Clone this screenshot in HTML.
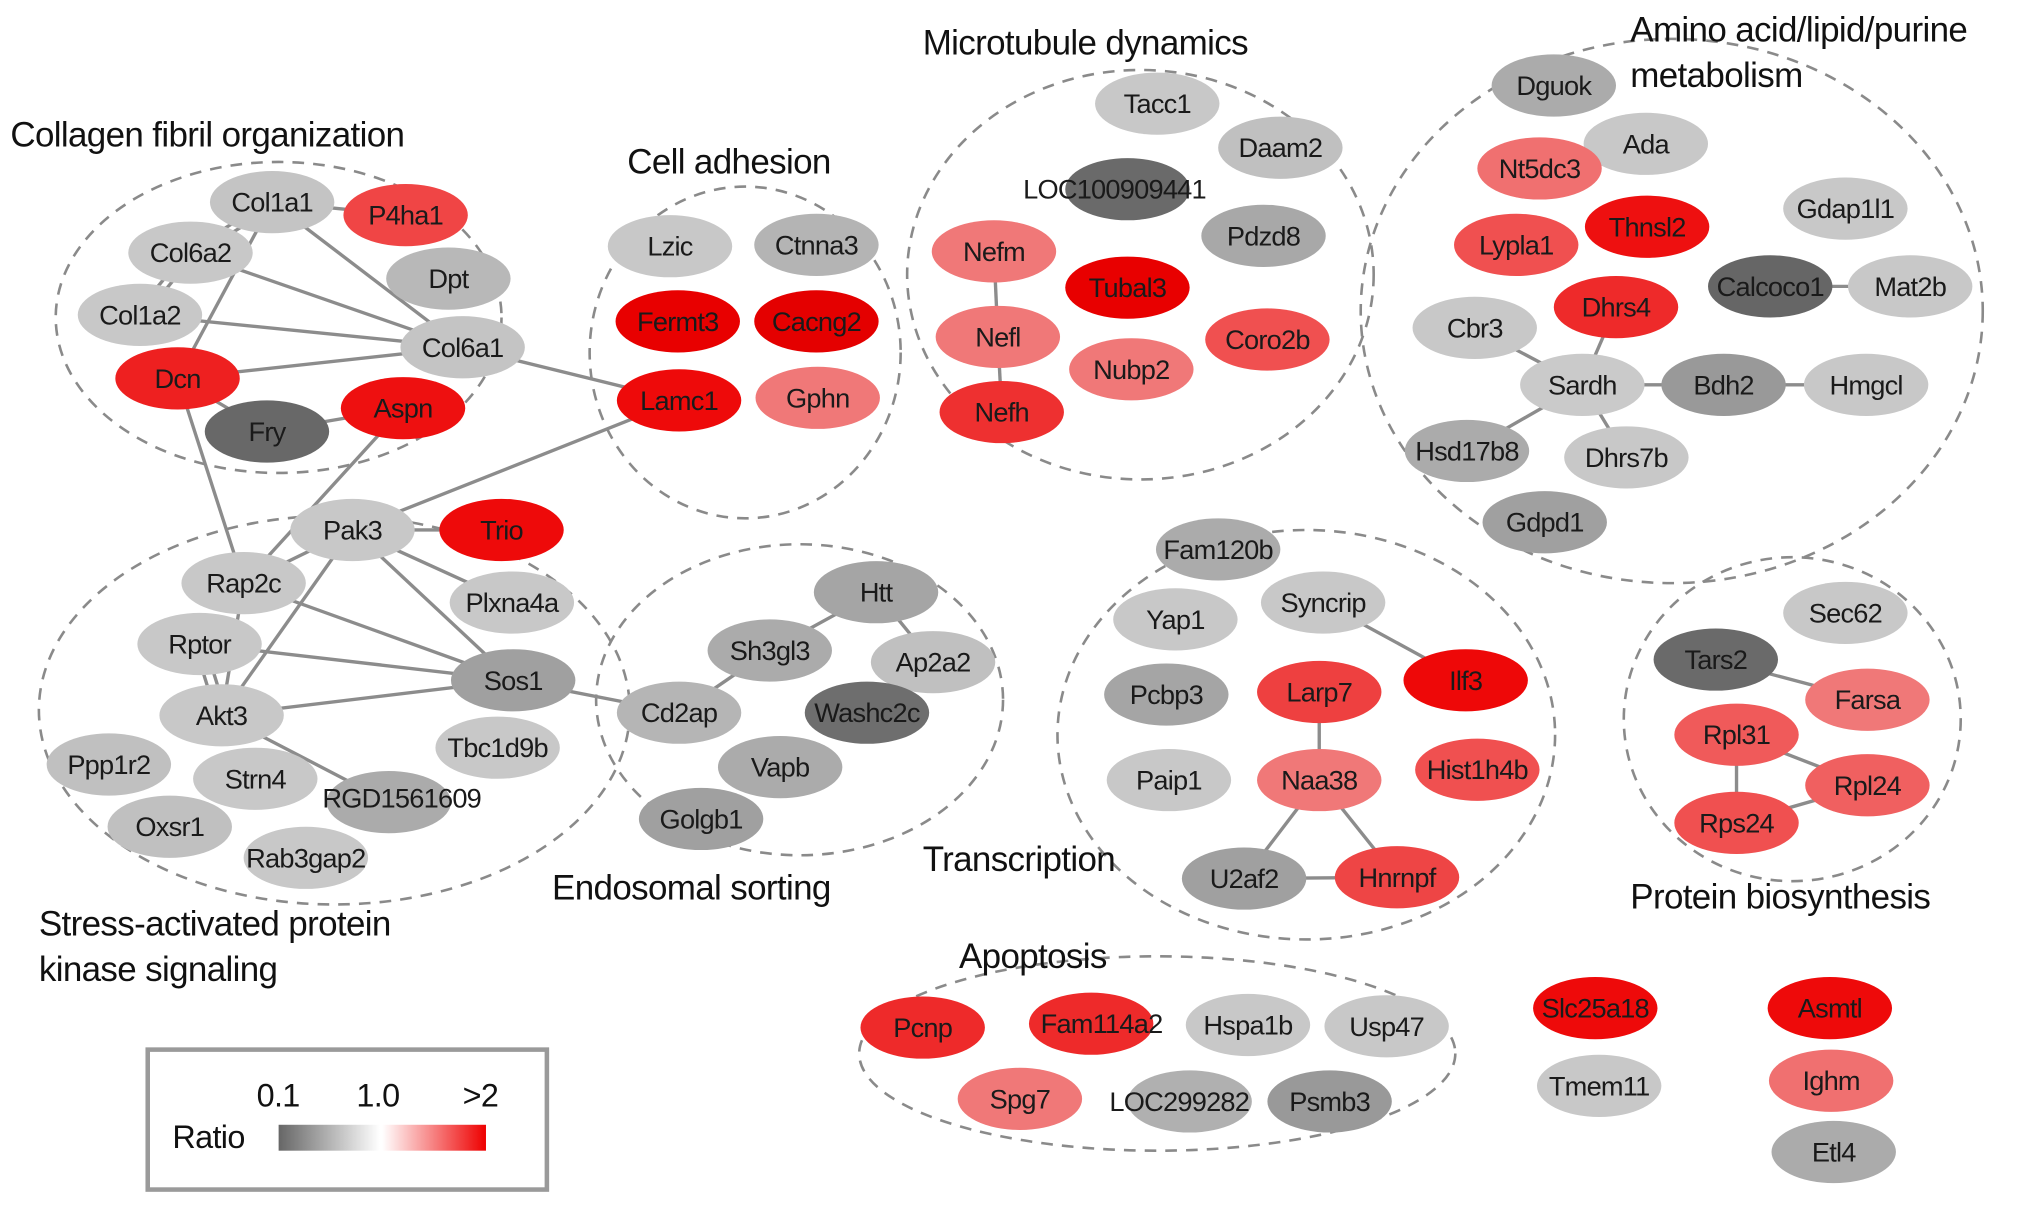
<!DOCTYPE html>
<html><head><meta charset="utf-8"><style>
html,body{margin:0;padding:0;background:#fff;}
svg{display:block}
text{font-family:"Liberation Sans Narrow","Liberation Sans",sans-serif;}
.n{font-size:21px;fill:#1a1a1a;text-anchor:middle;dominant-baseline:central;letter-spacing:-0.6px}
.t{font-size:27px;fill:#111;letter-spacing:-0.5px}
.c{fill:none;stroke:#8a8a8a;stroke-width:2;stroke-dasharray:9 7}
.e{stroke:#8c8c8c;stroke-width:2.6}
</style></head><body>
<svg width="2032" height="1209" viewBox="0 0 1568 933" preserveAspectRatio="none">
<defs>
<linearGradient id="gg" x1="0" x2="1"><stop offset="0" stop-color="#666"/><stop offset="1" stop-color="#fff"/></linearGradient>
<linearGradient id="gr" x1="0" x2="1"><stop offset="0" stop-color="#fff"/><stop offset="1" stop-color="#ee0000"/></linearGradient>
</defs>
<!-- cluster outlines -->
<ellipse class="c" cx="215" cy="245" rx="172" ry="120"/>
<ellipse class="c" cx="575" cy="272" rx="120" ry="128"/>
<ellipse class="c" cx="880" cy="212" rx="180" ry="158"/>
<ellipse class="c" cx="1290" cy="240" rx="240" ry="210"/>
<ellipse class="c" cx="258" cy="548" rx="228" ry="150"/>
<ellipse class="c" cx="617" cy="540" rx="157" ry="120"/>
<ellipse class="c" cx="1008" cy="567" rx="192" ry="158"/>
<ellipse class="c" cx="1383" cy="555" rx="130" ry="125"/>
<ellipse class="c" cx="893" cy="813" rx="230" ry="75"/>
<!-- titles -->
<text class="t" x="8" y="113">Collagen fibril organization</text>
<text class="t" x="484" y="134">Cell adhesion</text>
<text class="t" x="712" y="42">Microtubule dynamics</text>
<text class="t" x="1258" y="32">Amino acid/lipid/purine</text>
<text class="t" x="1258" y="67">metabolism</text>
<text class="t" x="30" y="722">Stress-activated protein</text>
<text class="t" x="30" y="757">kinase signaling</text>
<text class="t" x="426" y="694">Endosomal sorting</text>
<text class="t" x="712" y="672">Transcription</text>
<text class="t" x="1258" y="701">Protein biosynthesis</text>
<text class="t" x="740" y="747">Apoptosis</text>
<!-- edges -->
<g class="e">
<line x1="210" y1="156" x2="313" y2="166"/>
<line x1="206" y1="156" x2="143" y2="195"/><line x1="214" y1="158" x2="151" y2="197"/>
<line x1="210" y1="156" x2="357" y2="268"/>
<line x1="210" y1="156" x2="137" y2="292"/>
<line x1="143" y1="195" x2="104" y2="243"/><line x1="151" y1="195" x2="112" y2="243"/>
<line x1="147" y1="195" x2="357" y2="268"/>
<line x1="108" y1="243" x2="357" y2="268"/>
<line x1="137" y1="292" x2="357" y2="268"/>
<line x1="137" y1="292" x2="206" y2="333"/>
<line x1="206" y1="333" x2="311" y2="315"/>
<line x1="357" y1="268" x2="524" y2="309"/>
<line x1="524" y1="309" x2="272" y2="409"/>
<line x1="311" y1="315" x2="188" y2="450"/>
<line x1="137" y1="292" x2="188" y2="450"/>
<line x1="272" y1="409" x2="387" y2="409"/>
<line x1="272" y1="409" x2="188" y2="450"/>
<line x1="272" y1="409" x2="395" y2="465"/>
<line x1="272" y1="409" x2="396" y2="525"/>
<line x1="272" y1="409" x2="171" y2="552"/>
<line x1="188" y1="450" x2="396" y2="525"/>
<line x1="188" y1="450" x2="171" y2="552"/>
<line x1="150" y1="497" x2="167" y2="552"/><line x1="158" y1="497" x2="175" y2="552"/>
<line x1="154" y1="497" x2="396" y2="525"/>
<line x1="171" y1="552" x2="396" y2="525"/>
<line x1="171" y1="552" x2="300" y2="619"/>
<line x1="396" y1="525" x2="524" y2="550"/>
<line x1="676" y1="457" x2="594" y2="502"/>
<line x1="676" y1="457" x2="720" y2="511"/>
<line x1="594" y1="502" x2="524" y2="550"/>
<line x1="767" y1="194" x2="770" y2="260"/>
<line x1="770" y1="260" x2="773" y2="318"/>
<line x1="1366" y1="221" x2="1474" y2="221"/>
<line x1="1221" y1="297" x2="1138" y2="253"/>
<line x1="1221" y1="297" x2="1247" y2="237"/>
<line x1="1221" y1="297" x2="1330" y2="297"/>
<line x1="1330" y1="297" x2="1440" y2="297"/>
<line x1="1221" y1="297" x2="1132" y2="348"/>
<line x1="1221" y1="297" x2="1255" y2="353"/>
<line x1="1021" y1="465" x2="1131" y2="525"/>
<line x1="1018" y1="534" x2="1018" y2="602"/>
<line x1="1018" y1="602" x2="960" y2="678"/>
<line x1="1018" y1="602" x2="1078" y2="677"/>
<line x1="960" y1="678" x2="1078" y2="677"/>
<line x1="1324" y1="509" x2="1441" y2="540"/>
<line x1="1340" y1="567" x2="1340" y2="635"/>
<line x1="1340" y1="567" x2="1441" y2="606"/>
<line x1="1340" y1="635" x2="1441" y2="606"/>
</g>
<!-- nodes -->
<g>
<ellipse cx="210" cy="156" rx="48" ry="24" fill="#c4c4c4"/><text class="n" x="210" y="156">Col1a1</text>
<ellipse cx="313" cy="166" rx="48" ry="24" fill="#f04545"/><text class="n" x="313" y="166">P4ha1</text>
<ellipse cx="147" cy="195" rx="48" ry="24" fill="#c8c8c8"/><text class="n" x="147" y="195">Col6a2</text>
<ellipse cx="346" cy="215" rx="48" ry="24" fill="#b8b8b8"/><text class="n" x="346" y="215">Dpt</text>
<ellipse cx="108" cy="243" rx="48" ry="24" fill="#c8c8c8"/><text class="n" x="108" y="243">Col1a2</text>
<ellipse cx="357" cy="268" rx="48" ry="24" fill="#c4c4c4"/><text class="n" x="357" y="268">Col6a1</text>
<ellipse cx="137" cy="292" rx="48" ry="24" fill="#ee2020"/><text class="n" x="137" y="292">Dcn</text>
<ellipse cx="206" cy="333" rx="48" ry="24" fill="#686868"/><text class="n" x="206" y="333">Fry</text>
<ellipse cx="311" cy="315" rx="48" ry="24" fill="#ee1010"/><text class="n" x="311" y="315">Aspn</text>

<ellipse cx="517" cy="190" rx="48" ry="24" fill="#c8c8c8"/><text class="n" x="517" y="190">Lzic</text>
<ellipse cx="630" cy="189" rx="48" ry="24" fill="#b4b4b4"/><text class="n" x="630" y="189">Ctnna3</text>
<ellipse cx="523" cy="248" rx="48" ry="24" fill="#e80000"/><text class="n" x="523" y="248">Fermt3</text>
<ellipse cx="630" cy="248" rx="48" ry="24" fill="#e40000"/><text class="n" x="630" y="248">Cacng2</text>
<ellipse cx="524" cy="309" rx="48" ry="24" fill="#ee0a0a"/><text class="n" x="524" y="309">Lamc1</text>
<ellipse cx="631" cy="307" rx="48" ry="24" fill="#f07878"/><text class="n" x="631" y="307">Gphn</text>

<ellipse cx="893" cy="80" rx="48" ry="24" fill="#c8c8c8"/><text class="n" x="893" y="80">Tacc1</text>
<ellipse cx="988" cy="114" rx="48" ry="24" fill="#c0c0c0"/><text class="n" x="988" y="114">Daam2</text>
<ellipse cx="870" cy="146" rx="48" ry="24" fill="#6a6a6a"/><text class="n" x="860" y="146">LOC100909441</text>
<ellipse cx="975" cy="182" rx="48" ry="24" fill="#a8a8a8"/><text class="n" x="975" y="182">Pdzd8</text>
<ellipse cx="767" cy="194" rx="48" ry="24" fill="#f07878"/><text class="n" x="767" y="194">Nefm</text>
<ellipse cx="870" cy="222" rx="48" ry="24" fill="#e80000"/><text class="n" x="870" y="222">Tubal3</text>
<ellipse cx="770" cy="260" rx="48" ry="24" fill="#f07878"/><text class="n" x="770" y="260">Nefl</text>
<ellipse cx="978" cy="262" rx="48" ry="24" fill="#f05050"/><text class="n" x="978" y="262">Coro2b</text>
<ellipse cx="873" cy="285" rx="48" ry="24" fill="#f07878"/><text class="n" x="873" y="285">Nubp2</text>
<ellipse cx="773" cy="318" rx="48" ry="24" fill="#ee3030"/><text class="n" x="773" y="318">Nefh</text>

<ellipse cx="1199" cy="66" rx="48" ry="24" fill="#ababab"/><text class="n" x="1199" y="66">Dguok</text>
<ellipse cx="1270" cy="111" rx="48" ry="24" fill="#c8c8c8"/><text class="n" x="1270" y="111">Ada</text>
<ellipse cx="1188" cy="130" rx="48" ry="24" fill="#f07070"/><text class="n" x="1188" y="130">Nt5dc3</text>
<ellipse cx="1424" cy="161" rx="48" ry="24" fill="#c8c8c8"/><text class="n" x="1424" y="161">Gdap1l1</text>
<ellipse cx="1271" cy="175" rx="48" ry="24" fill="#ee1010"/><text class="n" x="1271" y="175">Thnsl2</text>
<ellipse cx="1170" cy="189" rx="48" ry="24" fill="#f05050"/><text class="n" x="1170" y="189">Lypla1</text>
<ellipse cx="1366" cy="221" rx="48" ry="24" fill="#666"/><text class="n" x="1366" y="221">Calcoco1</text>
<ellipse cx="1474" cy="221" rx="48" ry="24" fill="#c8c8c8"/><text class="n" x="1474" y="221">Mat2b</text>
<ellipse cx="1247" cy="237" rx="48" ry="24" fill="#ee2a2a"/><text class="n" x="1247" y="237">Dhrs4</text>
<ellipse cx="1138" cy="253" rx="48" ry="24" fill="#c8c8c8"/><text class="n" x="1138" y="253">Cbr3</text>
<ellipse cx="1221" cy="297" rx="48" ry="24" fill="#cacaca"/><text class="n" x="1221" y="297">Sardh</text>
<ellipse cx="1330" cy="297" rx="48" ry="24" fill="#999"/><text class="n" x="1330" y="297">Bdh2</text>
<ellipse cx="1440" cy="297" rx="48" ry="24" fill="#c8c8c8"/><text class="n" x="1440" y="297">Hmgcl</text>
<ellipse cx="1132" cy="348" rx="48" ry="24" fill="#ababab"/><text class="n" x="1132" y="348">Hsd17b8</text>
<ellipse cx="1255" cy="353" rx="48" ry="24" fill="#c8c8c8"/><text class="n" x="1255" y="353">Dhrs7b</text>
<ellipse cx="1192" cy="403" rx="48" ry="24" fill="#a0a0a0"/><text class="n" x="1192" y="403">Gdpd1</text>

<ellipse cx="272" cy="409" rx="48" ry="24" fill="#c8c8c8"/><text class="n" x="272" y="409">Pak3</text>
<ellipse cx="387" cy="409" rx="48" ry="24" fill="#ee0a0a"/><text class="n" x="387" y="409">Trio</text>
<ellipse cx="188" cy="450" rx="48" ry="24" fill="#c8c8c8"/><text class="n" x="188" y="450">Rap2c</text>
<ellipse cx="395" cy="465" rx="48" ry="24" fill="#c8c8c8"/><text class="n" x="395" y="465">Plxna4a</text>
<ellipse cx="154" cy="497" rx="48" ry="24" fill="#c8c8c8"/><text class="n" x="154" y="497">Rptor</text>
<ellipse cx="396" cy="525" rx="48" ry="24" fill="#a0a0a0"/><text class="n" x="396" y="525">Sos1</text>
<ellipse cx="171" cy="552" rx="48" ry="24" fill="#c8c8c8"/><text class="n" x="171" y="552">Akt3</text>
<ellipse cx="384" cy="577" rx="48" ry="24" fill="#c8c8c8"/><text class="n" x="384" y="577">Tbc1d9b</text>
<ellipse cx="84" cy="590" rx="48" ry="24" fill="#c0c0c0"/><text class="n" x="84" y="590">Ppp1r2</text>
<ellipse cx="197" cy="601" rx="48" ry="24" fill="#c8c8c8"/><text class="n" x="197" y="601">Strn4</text>
<ellipse cx="300" cy="619" rx="48" ry="24" fill="#ababab"/><text class="n" x="310" y="616">RGD1561609</text>
<ellipse cx="131" cy="638" rx="48" ry="24" fill="#c0c0c0"/><text class="n" x="131" y="638">Oxsr1</text>
<ellipse cx="236" cy="662" rx="48" ry="24" fill="#c8c8c8"/><text class="n" x="236" y="662">Rab3gap2</text>

<ellipse cx="676" cy="457" rx="48" ry="24" fill="#a5a5a5"/><text class="n" x="676" y="457">Htt</text>
<ellipse cx="594" cy="502" rx="48" ry="24" fill="#ababab"/><text class="n" x="594" y="502">Sh3gl3</text>
<ellipse cx="720" cy="511" rx="48" ry="24" fill="#c0c0c0"/><text class="n" x="720" y="511">Ap2a2</text>
<ellipse cx="524" cy="550" rx="48" ry="24" fill="#b5b5b5"/><text class="n" x="524" y="550">Cd2ap</text>
<ellipse cx="669" cy="550" rx="48" ry="24" fill="#6e6e6e"/><text class="n" x="669" y="550">Washc2c</text>
<ellipse cx="602" cy="592" rx="48" ry="24" fill="#ababab"/><text class="n" x="602" y="592">Vapb</text>
<ellipse cx="541" cy="632" rx="48" ry="24" fill="#a0a0a0"/><text class="n" x="541" y="632">Golgb1</text>

<ellipse cx="940" cy="424" rx="48" ry="24" fill="#ababab"/><text class="n" x="940" y="424">Fam120b</text>
<ellipse cx="907" cy="478" rx="48" ry="24" fill="#c8c8c8"/><text class="n" x="907" y="478">Yap1</text>
<ellipse cx="1021" cy="465" rx="48" ry="24" fill="#c8c8c8"/><text class="n" x="1021" y="465">Syncrip</text>
<ellipse cx="900" cy="536" rx="48" ry="24" fill="#a5a5a5"/><text class="n" x="900" y="536">Pcbp3</text>
<ellipse cx="1018" cy="534" rx="48" ry="24" fill="#ee4040"/><text class="n" x="1018" y="534">Larp7</text>
<ellipse cx="1131" cy="525" rx="48" ry="24" fill="#ee0808"/><text class="n" x="1131" y="525">Ilf3</text>
<ellipse cx="902" cy="602" rx="48" ry="24" fill="#c8c8c8"/><text class="n" x="902" y="602">Paip1</text>
<ellipse cx="1018" cy="602" rx="48" ry="24" fill="#f07878"/><text class="n" x="1018" y="602">Naa38</text>
<ellipse cx="1140" cy="594" rx="48" ry="24" fill="#f05050"/><text class="n" x="1140" y="594">Hist1h4b</text>
<ellipse cx="960" cy="678" rx="48" ry="24" fill="#a0a0a0"/><text class="n" x="960" y="678">U2af2</text>
<ellipse cx="1078" cy="677" rx="48" ry="24" fill="#ee4545"/><text class="n" x="1078" y="677">Hnrnpf</text>

<ellipse cx="1424" cy="473" rx="48" ry="24" fill="#c8c8c8"/><text class="n" x="1424" y="473">Sec62</text>
<ellipse cx="1324" cy="509" rx="48" ry="24" fill="#6a6a6a"/><text class="n" x="1324" y="509">Tars2</text>
<ellipse cx="1441" cy="540" rx="48" ry="24" fill="#f07878"/><text class="n" x="1441" y="540">Farsa</text>
<ellipse cx="1340" cy="567" rx="48" ry="24" fill="#f05a5a"/><text class="n" x="1340" y="567">Rpl31</text>
<ellipse cx="1441" cy="606" rx="48" ry="24" fill="#f06060"/><text class="n" x="1441" y="606">Rpl24</text>
<ellipse cx="1340" cy="635" rx="48" ry="24" fill="#f05050"/><text class="n" x="1340" y="635">Rps24</text>

<ellipse cx="712" cy="793" rx="48" ry="24" fill="#ee2a2a"/><text class="n" x="712" y="793">Pcnp</text>
<ellipse cx="842" cy="790" rx="48" ry="24" fill="#ee2a2a"/><text class="n" x="850" y="790">Fam114a2</text>
<ellipse cx="963" cy="791" rx="48" ry="24" fill="#c8c8c8"/><text class="n" x="963" y="791">Hspa1b</text>
<ellipse cx="1070" cy="792" rx="48" ry="24" fill="#c8c8c8"/><text class="n" x="1070" y="792">Usp47</text>
<ellipse cx="787" cy="848" rx="48" ry="24" fill="#f07878"/><text class="n" x="787" y="848">Spg7</text>
<ellipse cx="918" cy="850" rx="48" ry="24" fill="#b0b0b0"/><text class="n" x="910" y="850">LOC299282</text>
<ellipse cx="1026" cy="850" rx="48" ry="24" fill="#999"/><text class="n" x="1026" y="850">Psmb3</text>

<ellipse cx="1231" cy="778" rx="48" ry="24" fill="#ee0a0a"/><text class="n" x="1231" y="778">Slc25a18</text>
<ellipse cx="1234" cy="838" rx="48" ry="24" fill="#c8c8c8"/><text class="n" x="1234" y="838">Tmem11</text>
<ellipse cx="1412" cy="778" rx="48" ry="24" fill="#ee0a0a"/><text class="n" x="1412" y="778">Asmtl</text>
<ellipse cx="1413" cy="834" rx="48" ry="24" fill="#f07070"/><text class="n" x="1413" y="834">Ighm</text>
<ellipse cx="1415" cy="889" rx="48" ry="24" fill="#ababab"/><text class="n" x="1415" y="889">Etl4</text>
</g>
<!-- legend -->
<rect x="114" y="810" width="308" height="108" fill="#fff" stroke="#9a9a9a" stroke-width="3.5"/>
<text class="t" x="198" y="854" style="font-size:25px">0.1</text>
<text class="t" x="275" y="854" style="font-size:25px">1.0</text>
<text class="t" x="357" y="854" style="font-size:25px">&gt;2</text>
<text class="t" x="133" y="886" style="font-size:25px">Ratio</text>
<rect x="215" y="868" width="78" height="20" fill="url(#gg)"/>
<rect x="295" y="868" width="80" height="20" fill="url(#gr)"/>
</svg>
</body></html>
